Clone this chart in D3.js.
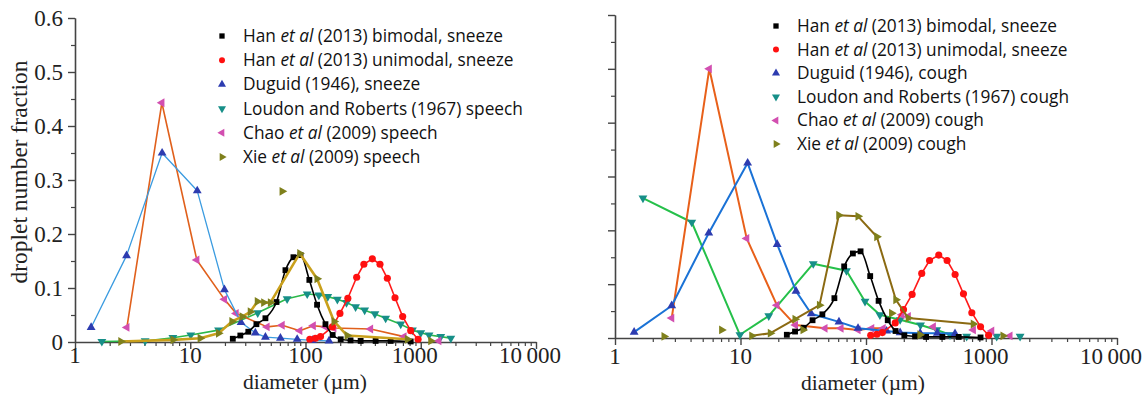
<!DOCTYPE html>
<html>
<head>
<meta charset="utf-8">
<script src="https://cdn.jsdelivr.net/npm/d3@7"></script>
<style>
  body { margin: 0; background: #fff; }
  .serif { font-family: "Liberation Serif", "DejaVu Serif", serif; fill: #222; }
  .legend text { font-family: "Open Sans", Lato, sans-serif; font-size: 17.3px; fill: #111; }
  .axis path, .axis line { stroke: #444; }
</style>
</head>
<body>
<div id="chart"></div>
<script>
// ---- data (diameter in um, number fraction) ----
const hanBiD = [23.4, 27.2, 31.9, 37.5, 44.9, 56, 67, 78.6, 90.5, 108, 126, 149, 172, 202, 246, 301, 406, 548, 818];
const hanBiF = [0.006, 0.012, 0.019, 0.033, 0.044, 0.074, 0.133, 0.157, 0.161, 0.115, 0.069, 0.033, 0.013, 0.005, 0.003, 0.002, 0.002, 0.002, 0.001];

const hanUniD = [109, 122, 135, 171, 199, 233, 278, 321, 380, 443, 513, 598, 697, 818, 948];
const hanUniF = [0.005, 0.007, 0.010, 0.028, 0.053, 0.081, 0.120, 0.144, 0.154, 0.144, 0.118, 0.082, 0.047, 0.021, 0.005];

// speech / sneeze panel
const duguidSneezeD = [1.38, 2.8, 5.7, 11.5, 19.8, 27.6, 36.7, 44.9, 60.6, 84.7, 115, 160];
const duguidSneezeF = [0.027, 0.16, 0.35, 0.28, 0.097, 0.036, 0.017, 0.009, 0.007, 0.005, 0.003, 0.002];

const loudonSpeechD = [1.71, 4.06, 7.07, 10.1, 17.6, 38.5, 69.3, 103.5, 130.5, 156, 189, 227, 272, 326, 400, 496, 670, 847, 1000, 1181, 1492, 1823];
const loudonSpeechF = [0.001, 0.002, 0.008, 0.013, 0.022, 0.054, 0.080, 0.089, 0.087, 0.084, 0.079, 0.073, 0.065, 0.059, 0.052, 0.044, 0.033, 0.022, 0.017, 0.013, 0.010, 0.007];

const chaoSpeechD = [2.82, 5.67, 11.4, 19.8, 25, 46.4, 62.7, 89.2, 116.7, 149, 176, 367, 716];
const chaoSpeechF = [0.027, 0.443, 0.152, 0.079, 0.053, 0.028, 0.031, 0.021, 0.030, 0.028, 0.026, 0.024, 0.010];
const chaoSpeechTailD = [1435];
const chaoSpeechTailF = [0.002];

const xieSpeechD = [2.5, 7.1, 12.2, 17.6, 23, 28.2, 33.2, 38.2, 43.4, 49.6, 89.2, 126, 177, 230, 766];
const xieSpeechF = [0.001, 0.004, 0.007, 0.016, 0.038, 0.047, 0.056, 0.075, 0.073, 0.073, 0.164, 0.117, 0.038, 0.012, 0.005];
const xieSpeechExtraD = [62.7, 1222];
const xieSpeechExtraF = [0.279, 0.002];

// cough panel
const duguidCoughD = [1.42, 2.83, 5.59, 11.4, 19.6, 27.7, 36.6, 60.9, 86.4, 146, 187, 270, 370, 512];
const duguidCoughF = [0.011, 0.060, 0.195, 0.325, 0.174, 0.087, 0.045, 0.030, 0.018, 0.013, 0.010, 0.009, 0.009, 0.008];

const loudonCoughD = [1.67, 4.09, 9.9, 16.8, 38, 69.9, 98.2, 129, 187, 272, 366, 467];
const loudonCoughF = [0.260, 0.215, 0.006, 0.041, 0.138, 0.125, 0.068, 0.043, 0.034, 0.024, 0.015, 0.006];
const loudonCoughTailD = [634, 1100, 1690];
const loudonCoughTailF = [0.003, 0.003, 0.003];

const chaoCoughD = [2.83, 5.64, 11.2, 19.5, 27.4, 47.1, 63.2, 86.4, 111, 137];
const chaoCoughF = [0.037, 0.500, 0.185, 0.061, 0.024, 0.018, 0.018, 0.015, 0.018, 0.018];
const chaoCoughTailD = [193, 217, 344, 716, 1004, 1403];
const chaoCoughTailF = [0.043, 0.040, 0.021, 0.015, 0.013, 0.004];

const xieCoughD = [12.3, 17.3, 27.2, 42.6, 60.7, 86.4, 122, 173, 217, 716];
const xieCoughF = [0.004, 0.009, 0.035, 0.061, 0.228, 0.226, 0.188, 0.071, 0.037, 0.026];
const xieCoughExtraD = [2.46, 7.08, 31.5, 160, 269, 1236];
const xieCoughExtraF = [0.003, 0.015, 0.015, 0.046, 0.006, 0.004];

// axes
const xMajor = [1, 10, 100, 1000, 10000];
const xMajorLabels = ["1", "10", "100", "1000", "10\u2009000"];
const yMajor = [0, 0.1, 0.2, 0.3, 0.4, 0.5, 0.6];
const yMajorLabels = ["0", "0.1", "0.2", "0.3", "0.4", "0.5", "0.6"];

const legendSpeech = [
  ["Han ", "et al", " (2013) bimodal, sneeze"],
  ["Han ", "et al", " (2013) unimodal, sneeze"],
  ["Duguid (1946), sneeze", "", ""],
  ["Loudon and Roberts (1967) speech", "", ""],
  ["Chao ", "et al", " (2009) speech"],
  ["Xie ", "et al", " (2009) speech"]
];
const legendCough = [
  ["Han ", "et al", " (2013) bimodal, sneeze"],
  ["Han ", "et al", " (2013) unimodal, sneeze"],
  ["Duguid (1946), cough", "", ""],
  ["Loudon and Roberts (1967) cough", "", ""],
  ["Chao ", "et al", " (2009) cough"],
  ["Xie ", "et al", " (2009) cough"]
];

const width = 1142, height = 396;
const svg = d3.select("#chart").append("svg")
  .attr("width", width).attr("height", height);

// marker styles, one per legend row
const markers = [
  {sym: d3.symbolSquare, size: 34, rot: 0, fill: "#000"},
  {sym: d3.symbolCircle, size: 40, rot: 0, fill: "#ff1010"},
  {sym: d3.symbolTriangle, size: 34, rot: 0, fill: "#2d3cb0"},
  {sym: d3.symbolTriangle, size: 34, rot: 180, fill: "#178f88"},
  {sym: d3.symbolTriangle, size: 34, rot: -90, fill: "#d24fb0"},
  {sym: d3.symbolTriangle, size: 34, rot: 90, fill: "#7f801c"}
];

function panel(p) {
  const x = d3.scaleLog([1, 10000], p.xRange);
  const y = d3.scaleLinear([0, 0.6], p.yRange);
  const g = svg.append("g");

  const xMinor = [];
  for (let e = 0; e < 4; e++) for (let k = 2; k <= 9; k++) xMinor.push(k * Math.pow(10, e));

  g.append("g").attr("class", "axis")
    .attr("transform", `translate(0,${p.yRange[0]})`)
    .call(d3.axisBottom(x).tickValues(xMinor).tickSize(4).tickSizeOuter(0).tickFormat(""))
    .call(a => a.selectAll("line").attr("stroke-width", 1.2));
  g.append("g").attr("class", "axis")
    .attr("transform", `translate(0,${p.yRange[0]})`)
    .call(d3.axisBottom(x).tickValues(xMajor).tickSize(7).tickSizeOuter(0).tickFormat(""))
    .call(a => a.select(".domain").attr("stroke-width", 1.6))
    .call(a => a.selectAll("line").attr("stroke-width", 1.4));

  // the wider labels sit a little left of their tick in the original
  g.selectAll(".xlab").data(xMajor).join("text")
    .attr("class", "serif")
    .attr("x", d => x(d) - (d >= 1000 ? 6 : 0))
    .attr("y", p.xLabelY)
    .attr("text-anchor", "middle")
    .attr("font-size", 23)
    .text((d, i) => xMajorLabels[i]);

  g.append("g").attr("class", "axis")
    .attr("transform", `translate(${p.xRange[0]},0)`)
    .call(d3.axisLeft(y).tickValues(d3.range(0.05, 0.6, 0.1)).tickSize(4).tickSizeOuter(0).tickFormat(""))
    .call(a => a.selectAll("line").attr("stroke-width", 1.2));
  g.append("g").attr("class", "axis")
    .attr("transform", `translate(${p.xRange[0]},0)`)
    .call(d3.axisLeft(y).tickValues(yMajor).tickSize(7).tickSizeOuter(0).tickFormat(""))
    .call(a => a.select(".domain").attr("stroke-width", 1.6))
    .call(a => a.selectAll("line").attr("stroke-width", 1.4));

  if (p.yLabels) {
    g.selectAll(".ylab").data(yMajor).join("text")
      .attr("class", "serif")
      .attr("x", p.xRange[0] - 12)
      .attr("y", d => y(d))
      .attr("dy", "0.35em")
      .attr("text-anchor", "end")
      .attr("font-size", 23)
      .text((d, i) => yMajorLabels[i]);
    g.append("text")
      .attr("class", "serif")
      .attr("transform", `translate(27,172) rotate(-90)`)
      .attr("text-anchor", "middle")
      .attr("font-size", 23.5)
      .text("droplet number fraction");
  }

  g.append("text")
    .attr("class", "serif")
    .attr("x", p.titleX)
    .attr("y", p.titleY)
    .attr("text-anchor", "middle")
    .attr("font-size", 21.5)
    .text("diameter (\u00b5m)");

  const line = d3.line().x(d => x(d[0])).y(d => y(d[1]));
  p.series.forEach(s => {
    const pts = s.d.map((v, i) => [v, s.f[i]]);
    const extra = (s.xd || []).map((v, i) => [v, s.xf[i]]);
    g.append("path")
      .datum(pts)
      .attr("fill", "none")
      .attr("stroke", s.stroke)
      .attr("stroke-width", s.lw)
      .attr("stroke-linejoin", "round")
      .attr("d", line.curve(s.smooth ? d3.curveMonotoneX : d3.curveLinear));
    const m = markers[s.m];
    g.append("g").selectAll("path")
      .data(pts.concat(extra))
      .join("path")
      .attr("transform", d => `translate(${x(d[0])},${y(d[1])}) rotate(${m.rot})`)
      .attr("d", d3.symbol(m.sym, m.size))
      .attr("fill", m.fill);
  });

  const lg = g.append("g").attr("class", "legend");
  const rows = lg.selectAll("g").data(p.legend).join("g")
    .attr("transform", (d, i) => `translate(${p.legendX},${p.legendY + i * p.legendStep})`);
  rows.append("path")
    .attr("transform", (d, i) => `rotate(${markers[i].rot})`)
    .attr("d", (d, i) => d3.symbol(markers[i].sym, 28)())
    .attr("fill", (d, i) => markers[i].fill);
  const t = rows.append("text").attr("x", 21).attr("dy", "0.35em");
  t.append("tspan").text(d => d[0]);
  t.append("tspan").attr("font-style", "italic").text(d => d[1]);
  t.append("tspan").text(d => d[2]);
}

panel({
  xRange: [75, 536], yRange: [342, 18], xLabelY: 363, yLabels: true,
  titleX: 305, titleY: 389,
  legendX: 222, legendY: 36, legendStep: 24.2, legend: legendSpeech,
  series: [
    {d: loudonSpeechD, f: loudonSpeechF, m: 3, stroke: "#2cb84a", lw: 1.6},
    {d: chaoSpeechD, f: chaoSpeechF, xd: chaoSpeechTailD, xf: chaoSpeechTailF, m: 4, stroke: "#e0601c", lw: 1.6},
    {d: duguidSneezeD, f: duguidSneezeF, m: 2, stroke: "#3a9be0", lw: 1.3},
    {d: hanUniD, f: hanUniF, m: 1, stroke: "#ff1a1a", lw: 1.6},
    {d: hanBiD, f: hanBiF, m: 0, stroke: "#000", lw: 1.6, smooth: true},
    {d: xieSpeechD, f: xieSpeechF, xd: xieSpeechExtraD, xf: xieSpeechExtraF, m: 5, stroke: "#c9a01c", lw: 2.6}
  ]
});

panel({
  xRange: [615, 1117], yRange: [338, 15], xLabelY: 364, yLabels: false,
  titleX: 863, titleY: 390,
  legendX: 776, legendY: 26, legendStep: 23.6, legend: legendCough,
  series: [
    {d: loudonCoughD, f: loudonCoughF, xd: loudonCoughTailD, xf: loudonCoughTailF, m: 3, stroke: "#25c04a", lw: 2},
    {d: chaoCoughD, f: chaoCoughF, xd: chaoCoughTailD, xf: chaoCoughTailF, m: 4, stroke: "#e8601a", lw: 2},
    {d: duguidCoughD, f: duguidCoughF, m: 2, stroke: "#1a72d6", lw: 2},
    {d: hanUniD, f: hanUniF, m: 1, stroke: "#ff1a1a", lw: 1.6},
    {d: hanBiD, f: hanBiF, m: 0, stroke: "#000", lw: 1.6, smooth: true},
    {d: xieCoughD, f: xieCoughF, xd: xieCoughExtraD, xf: xieCoughExtraF, m: 5, stroke: "#8b6a12", lw: 2}
  ]
});
</script>
</body>
</html>
